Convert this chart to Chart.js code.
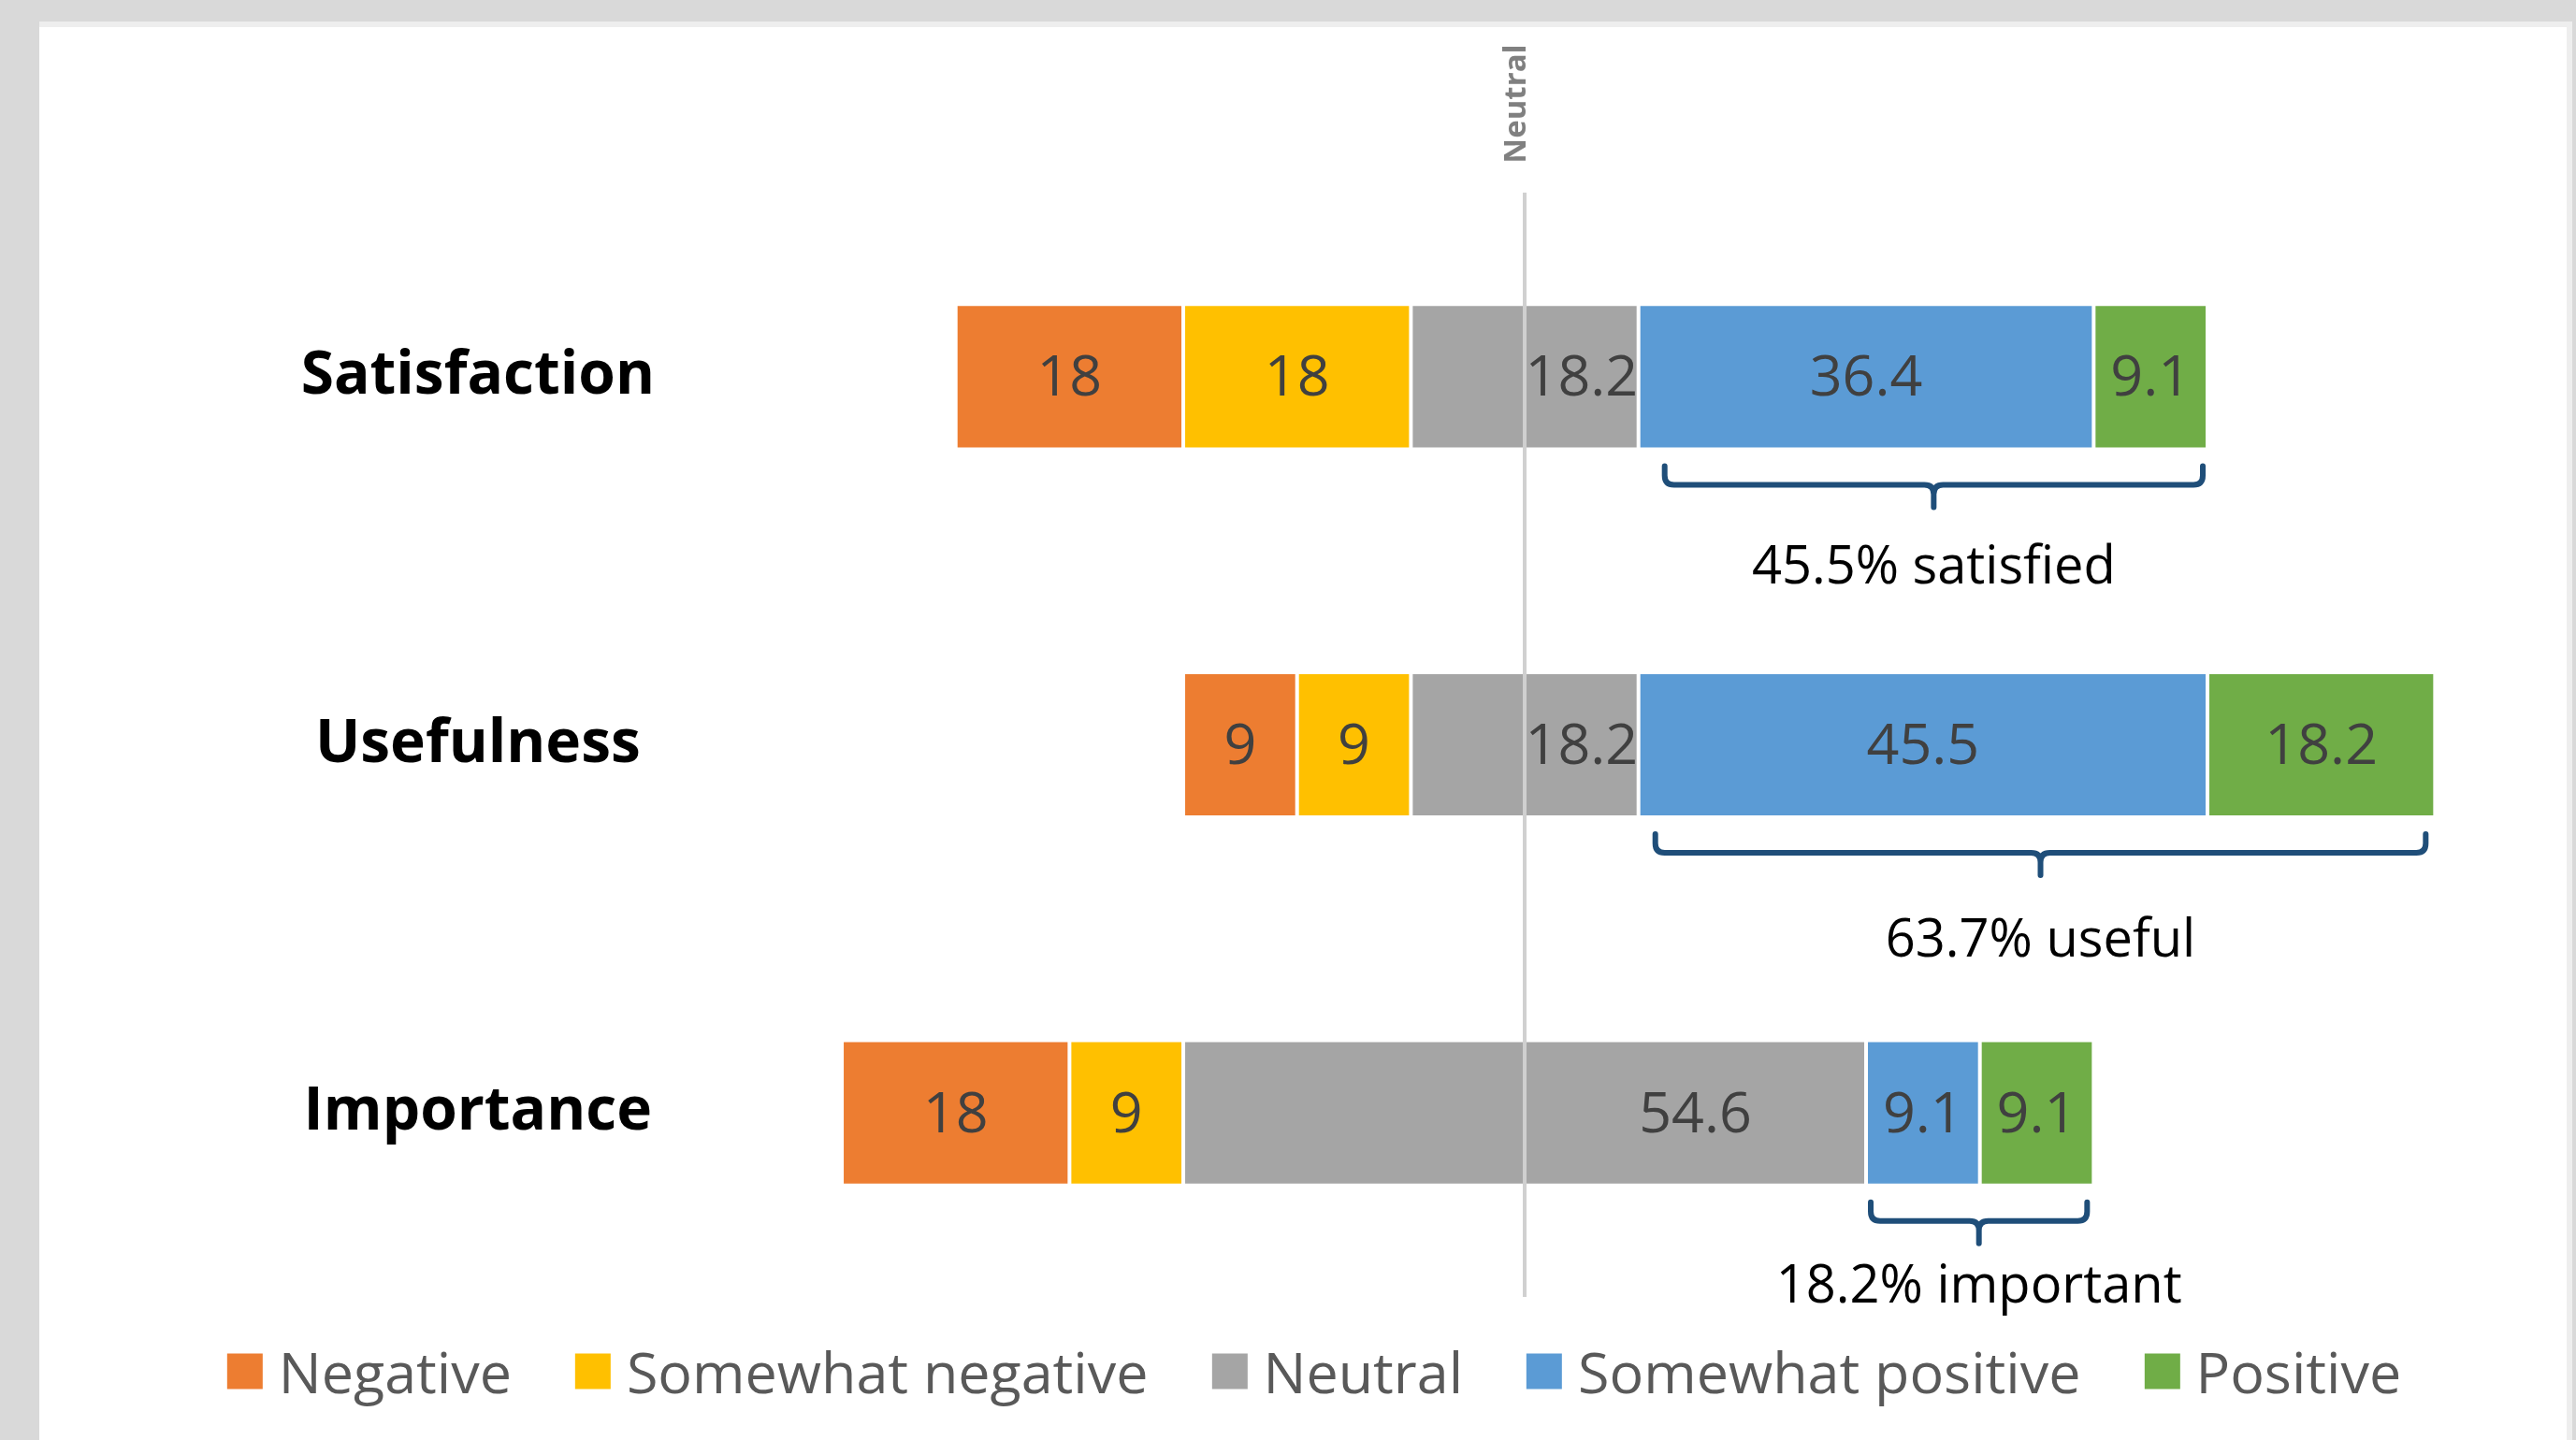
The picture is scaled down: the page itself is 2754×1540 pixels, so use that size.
<!DOCTYPE html>
<html>
<head>
<meta charset="utf-8">
<script src="https://cdn.jsdelivr.net/npm/chart.js@4.4.1/dist/chart.umd.min.js"></script>
<style>
  html, body { margin: 0; padding: 0; }
  body { width: 2754px; height: 1540px; background: #d9d9d9; position: relative; overflow: hidden; font-family: 'Open Sans', sans-serif; }
  #panel { position: absolute; left: 42px; top: 23px; width: 2708px; height: 1517px; background: #eeeeee; }
  #panelInner { position: absolute; left: 0; top: 6px; width: 2702px; bottom: 0; background: #ffffff; }
  #wrap { position: absolute; left: 0; top: 0; width: 2754px; height: 1540px; }
  #legend { position: absolute; left: 1405px; top: 1466px; transform: translate(-50%, -50%); display: flex; align-items: center; gap: 68px; white-space: nowrap; }
  .item { display: flex; align-items: center; gap: 17px; font-size: 61px; color: #595959; }
  .box { width: 38px; height: 38px; }
</style>
</head>
<body>
<div id="panel"><div id="panelInner"></div></div>
<div id="wrap"><canvas id="likertChart"></canvas></div>
<div id="legend"></div>
<script>
const categories = ['Satisfaction', 'Usefulness', 'Importance'];
const seriesNames = ['Negative', 'Somewhat negative', 'Neutral', 'Somewhat positive', 'Positive'];
// bar lengths (the negative labels are shown rounded)
const negative = [18.2, 9.1, 18.2];
const somewhatNegative = [18.2, 9.1, 9.1];
const neutral = [18.2, 18.2, 54.6];
const somewhatPositive = [36.4, 45.5, 9.1];
const positive = [9.1, 18.2, 9.1];
const notes = ['45.5% satisfied', '63.7% useful', '18.2% important'];

const colors = ['#ED7D31', '#FFC000', '#A5A5A5', '#5B9BD5', '#70AD47'];
const labelDecimals = [0, 0, 1, 1, 1];
const series = [negative, somewhatNegative, neutral, somewhatPositive, positive];

// bracket insets and note offsets (px)
const bracketInsetL = [28, 18, 5];
const bracketInsetR = [5, 10, 7];
const noteDy = [128, 133, 109];

// floating bars, centred so the middle of "Neutral" sits on 0
const ranges = series.map(() => []);
categories.forEach((c, i) => {
  let start = -(negative[i] + somewhatNegative[i] + neutral[i] / 2);
  series.forEach((s, k) => {
    ranges[k].push([start, start + s[i]]);
    start += s[i];
  });
});

function barEnds(bar) {
  return [Math.min(bar.x, bar.base), Math.max(bar.x, bar.base)];
}

const likertPlugin = {
  id: 'likertExtras',
  afterDatasetsDraw(chart) {
    const ctx = chart.ctx;
    const x = chart.scales.x;
    const area = chart.chartArea;
    const zero = x.getPixelForValue(0);

    // neutral line
    ctx.save();
    ctx.strokeStyle = '#d0d0d0';
    ctx.lineWidth = 4;
    ctx.beginPath();
    ctx.moveTo(zero, area.top);
    ctx.lineTo(zero, area.bottom);
    ctx.stroke();

    // "Neutral" label
    ctx.translate(zero - 4, 111);
    ctx.rotate(-Math.PI / 2);
    ctx.fillStyle = '#808080';
    ctx.font = 'bold 33px "Open Sans"';
    ctx.textAlign = 'center';
    ctx.textBaseline = 'bottom';
    ctx.fillText('Neutral', 0, 12);
    ctx.restore();

    // value labels
    ctx.save();
    ctx.fillStyle = '#404040';
    ctx.font = '61px "Open Sans"';
    ctx.textAlign = 'center';
    ctx.textBaseline = 'middle';
    chart.data.datasets.forEach((ds, k) => {
      const meta = chart.getDatasetMeta(k);
      meta.data.forEach((bar, i) => {
        const [l, r] = barEnds(bar);
        let cx = (l + r) / 2;
        if (k === 2) cx = (zero + r) / 2;
        ctx.fillText(series[k][i].toFixed(labelDecimals[k]), cx, bar.y + 3);
      });
    });
    ctx.restore();

    // brackets under the positive part + notes
    const posMeta = chart.getDatasetMeta(3);
    const topMeta = chart.getDatasetMeta(4);
    ctx.save();
    ctx.strokeStyle = '#1F4E79';
    ctx.lineWidth = 6;
    ctx.lineCap = 'round';
    ctx.lineJoin = 'round';
    categories.forEach((c, i) => {
      const b = posMeta.data[i];
      const g = topMeta.data[i];
      const x1 = barEnds(b)[0] + bracketInsetL[i];
      const x2 = barEnds(g)[1] - bracketInsetR[i];
      const xc = (x1 + x2) / 2;
      const yb = b.y + b.height / 2;
      const top = yb + 18, mid = yb + 38, bot = yb + 62, r = 10;
      ctx.beginPath();
      ctx.moveTo(x1, top);
      ctx.lineTo(x1, mid - r);
      ctx.quadraticCurveTo(x1, mid, x1 + r, mid);
      ctx.lineTo(xc - r, mid);
      ctx.quadraticCurveTo(xc, mid, xc, mid + r);
      ctx.lineTo(xc, bot);
      ctx.moveTo(x2, top);
      ctx.lineTo(x2, mid - r);
      ctx.quadraticCurveTo(x2, mid, x2 - r, mid);
      ctx.lineTo(xc + r, mid);
      ctx.quadraticCurveTo(xc, mid, xc, mid + r);
      ctx.stroke();

      ctx.fillStyle = '#000000';
      ctx.font = '56px "Open Sans"';
      ctx.textAlign = 'center';
      ctx.textBaseline = 'middle';
      ctx.fillText(notes[i], xc, yb + noteDy[i]);
    });
    ctx.restore();
  }
};

const ctx = document.getElementById('likertChart').getContext('2d');
const likertChart = new Chart(ctx, {
  type: 'bar',
  data: {
    labels: categories,
    datasets: seriesNames.map((name, k) => ({
      label: name,
      data: ranges[k],
      backgroundColor: colors[k],
      borderColor: 'rgba(255,255,255,0.35)',
      borderWidth: 2,
      borderSkipped: false,
      grouped: false,
      categoryPercentage: 1,
      barPercentage: 0.394
    }))
  },
  options: {
    indexAxis: 'y',
    responsive: true,
    maintainAspectRatio: false,
    animation: false,
    devicePixelRatio: 1,
    layout: { padding: { left: 0, right: 54.4, top: 206, bottom: 153 } },
    scales: {
      x: { display: false, min: -65, max: 80 },
      y: {
        grid: { display: false },
        border: { display: false },
        afterFit(scale) { scale.width = 761; },
        ticks: {
          crossAlign: 'center',
          padding: 53,
          color: '#000000',
          font: { family: 'Open Sans', size: 64, weight: 'bold' }
        }
      }
    },
    plugins: {
      legend: { display: false },
      tooltip: { enabled: false }
    }
  },
  plugins: [likertPlugin]
});

// html legend built from the chart's own legend items
const legendEl = document.getElementById('legend');
likertChart.options.plugins.legend.labels.generateLabels(likertChart).forEach(item => {
  const el = document.createElement('div');
  el.className = 'item';
  const box = document.createElement('span');
  box.className = 'box';
  box.style.background = item.fillStyle;
  const txt = document.createElement('span');
  txt.textContent = item.text;
  el.appendChild(box);
  el.appendChild(txt);
  legendEl.appendChild(el);
});
</script>
</body>
</html>
